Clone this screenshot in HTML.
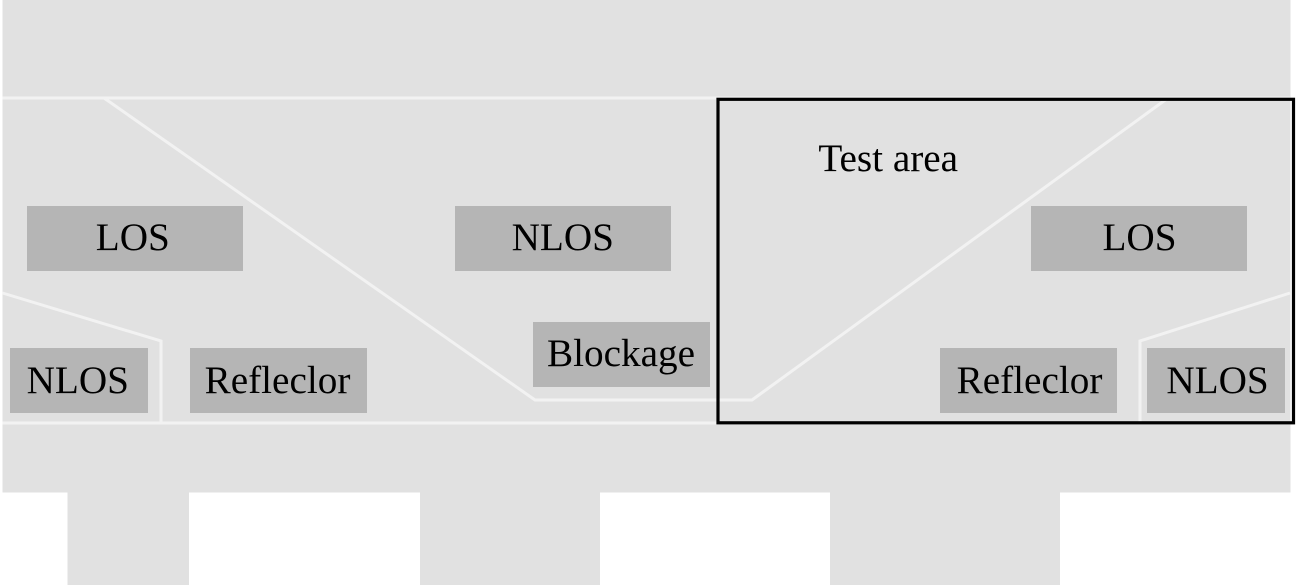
<!DOCTYPE html>
<html>
<head>
<meta charset="utf-8">
<style>
html,body{margin:0;padding:0;background:#fff;width:1296px;height:586px;overflow:hidden}
svg{display:block}
text{font-family:"Liberation Serif",serif;font-size:39.2px;fill:#000;text-anchor:middle}
</style>
</head>
<body>
<svg width="1296" height="586" viewBox="0 0 1296 586" xmlns="http://www.w3.org/2000/svg">
<rect width="1296" height="586" fill="#fff"/>
<rect x="2.5" y="0" width="1288" height="492.5" fill="#e1e1e1"/>
<rect x="67.5" y="492" width="121.5" height="93" fill="#e1e1e1"/>
<rect x="420" y="492" width="180" height="93" fill="#e1e1e1"/>
<rect x="830" y="492" width="230" height="93" fill="#e1e1e1"/>
<g fill="none" stroke="#f2f2f2" stroke-width="3">
<path d="M2.5 98H1290"/>
<path d="M2.5 423H1290"/>
<path d="M104 98L535 400H752L1168 98"/>
<path d="M2.5 293L161 341V423"/>
<path d="M1290 293L1140 341V423"/>
</g>
<g fill="#b5b5b5">
<rect x="27" y="206" width="216" height="65"/>
<rect x="455" y="206" width="216" height="65"/>
<rect x="1031" y="206" width="216" height="65"/>
<rect x="533" y="322" width="177" height="65"/>
<rect x="10" y="348" width="138" height="65"/>
<rect x="190" y="348" width="177" height="65"/>
<rect x="940" y="348" width="177" height="65"/>
<rect x="1147" y="348" width="138" height="65"/>
</g>
<rect x="718" y="99.3" width="575.5" height="323.5" fill="none" stroke="#000" stroke-width="3.2"/>
<text x="132.8" y="250">LOS</text>
<text x="562.8" y="250">NLOS</text>
<text x="1139.5" y="250">LOS</text>
<text x="621" y="366">Blockage</text>
<text x="77.8" y="393">NLOS</text>
<text x="277.5" y="393">Refleclor</text>
<text x="1029.5" y="393">Refleclor</text>
<text x="1217.5" y="393">NLOS</text>
<text x="888.2" y="171">Test area</text>
</svg>
</body>
</html>
